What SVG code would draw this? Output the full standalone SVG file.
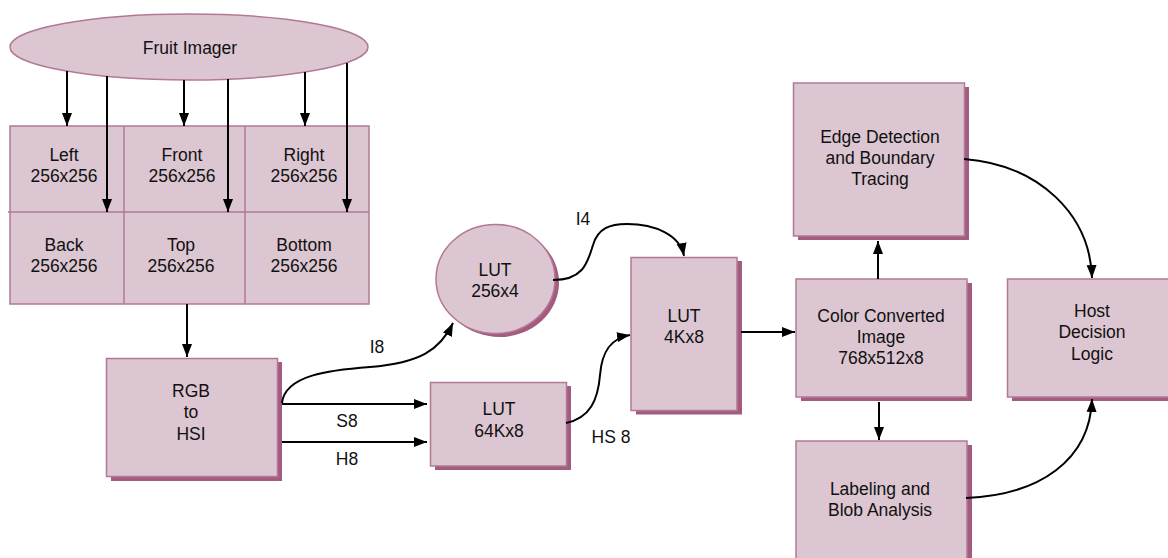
<svg xmlns="http://www.w3.org/2000/svg" width="1168" height="558" viewBox="0 0 1168 558">
<style>
.n{fill:#dcc6d1;stroke:#b27896;stroke-width:1.5}
.sh{fill:#a35c80;stroke:none}
.g{fill:none;stroke:#b27896;stroke-width:1.5}
text{font-family:"Liberation Sans",Arial,sans-serif;font-size:17.5px;fill:#111;text-anchor:middle}
.c{fill:none;stroke:#000;stroke-width:2;marker-end:url(#ah)}
</style>
<defs>
<marker id="ah" markerUnits="userSpaceOnUse" markerWidth="14" markerHeight="11" refX="13" refY="5" orient="auto" viewBox="0 0 14 10">
<path d="M0,0 L13,5 L0,10 z" fill="#000"/>
</marker>
</defs>
<rect width="1168" height="558" fill="#fff"/>

<g id="fruit-imager">
<ellipse class="n" cx="189" cy="47" rx="179" ry="33"/>
<text x="190" y="54">Fruit Imager</text>
</g>

<g id="views">
<rect class="n" x="10" y="126" width="359" height="178"/>
<line class="g" x1="8" y1="212" x2="369" y2="212"/>
<line class="g" x1="124" y1="126" x2="124" y2="304"/>
<line class="g" x1="245" y1="126" x2="245" y2="304"/>
<text x="64" y="161">Left</text><text x="64" y="182">256x256</text>
<text x="182" y="161">Front</text><text x="182" y="182">256x256</text>
<text x="304" y="161">Right</text><text x="304" y="182">256x256</text>
<text x="64" y="251">Back</text><text x="64" y="272">256x256</text>
<text x="181" y="251">Top</text><text x="181" y="272">256x256</text>
<text x="304" y="251">Bottom</text><text x="304" y="272">256x256</text>
</g>

<g id="rgb-to-hsi">
<rect class="sh" x="111" y="362" width="171" height="119"/>
<rect class="n" x="106.5" y="358.5" width="171" height="118"/>
<text x="191" y="397">RGB</text><text x="191" y="418">to</text><text x="191" y="440">HSI</text>
</g>

<g id="lut-64k">
<rect class="sh" x="435" y="386" width="136" height="84"/>
<rect class="n" x="430.5" y="382.5" width="136" height="83.5"/>
<text x="499" y="415">LUT</text><text x="499" y="437">64Kx8</text>
</g>

<g id="lut-256">
<ellipse class="sh" cx="499.5" cy="282.5" rx="59.5" ry="54.5"/>
<ellipse class="n" cx="495.5" cy="279" rx="59.5" ry="54.5"/>
<text x="495" y="276">LUT</text><text x="495" y="297">256x4</text>
</g>

<g id="lut-4k">
<rect class="sh" x="636" y="261" width="106" height="153.5"/>
<rect class="n" x="631" y="257.5" width="106" height="153"/>
<text x="684" y="322">LUT</text><text x="684" y="343">4Kx8</text>
</g>

<g id="color-converted">
<rect class="sh" x="801" y="283" width="171" height="118"/>
<rect class="n" x="796" y="279" width="171" height="118"/>
<text x="881" y="322">Color Converted</text><text x="881" y="343">Image</text><text x="881" y="364">768x512x8</text>
</g>

<g id="edge-detection">
<rect class="sh" x="798" y="87" width="171" height="153"/>
<rect class="n" x="793.5" y="83" width="171" height="153"/>
<text x="880" y="143">Edge Detection</text><text x="880" y="164">and Boundary</text><text x="880" y="185">Tracing</text>
</g>

<g id="labeling">
<rect class="sh" x="801" y="445" width="171" height="130"/>
<rect class="n" x="796" y="441" width="171" height="130"/>
<text x="880" y="495">Labeling and</text><text x="880" y="516">Blob Analysis</text>
</g>

<g id="host-decision">
<rect class="sh" x="1012" y="283" width="170" height="118"/>
<rect class="n" x="1007.5" y="279" width="170" height="118"/>
<text x="1092" y="317">Host</text><text x="1092" y="338">Decision</text><text x="1092" y="360">Logic</text>
</g>

<g id="connectors">
<line class="c" x1="67" y1="71" x2="67" y2="126"/>
<line class="c" x1="107" y1="76" x2="107" y2="212"/>
<line class="c" x1="184" y1="80" x2="184" y2="126"/>
<line class="c" x1="228" y1="79" x2="228" y2="212"/>
<line class="c" x1="305" y1="72" x2="305" y2="126"/>
<line class="c" x1="347" y1="63" x2="347" y2="212"/>
<line class="c" x1="187" y1="304" x2="187" y2="357"/>
<path class="c" d="M282,403 C285,375 330,370 370,367 C420,363 440,350 453,323"/>
<line class="c" x1="282" y1="404" x2="427" y2="404"/>
<line class="c" x1="282" y1="442" x2="427" y2="442"/>
<path class="c" d="M553,280 C585,280 588,260 593,245 C598,228 610,224 627,224 C655,224 680,235 684,256"/>
<path class="c" d="M566,423 C590,418 598,400 600,375 C602,350 612,338 630,335"/>
<line class="c" x1="741" y1="332" x2="795" y2="332"/>
<line class="c" x1="878" y1="279" x2="878" y2="241"/>
<line class="c" x1="879" y1="402" x2="879" y2="440"/>
<path class="c" d="M964,159 C1040,165 1090,215 1092,278"/>
<path class="c" d="M966,498 C1040,495 1090,460 1092,399"/>
<text x="377" y="353">I8</text>
<text x="347" y="427">S8</text>
<text x="347" y="465">H8</text>
<text x="583" y="225">I4</text>
<text x="611" y="443">HS 8</text>
</g>
</svg>
